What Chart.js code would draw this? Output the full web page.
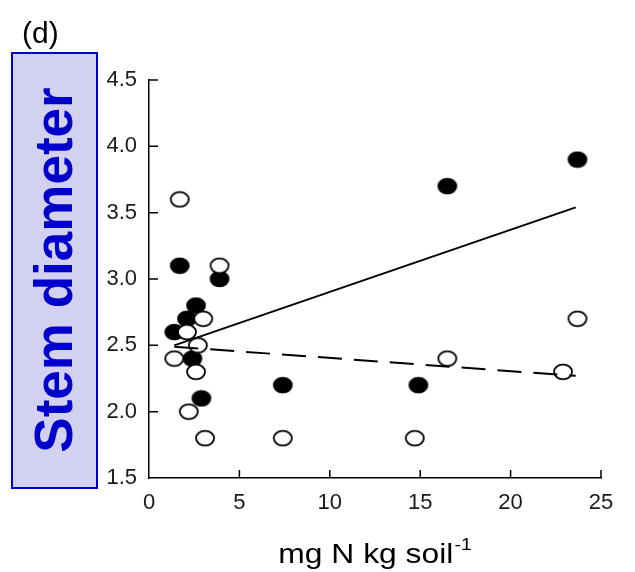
<!DOCTYPE html>
<html>
<head>
<meta charset="utf-8">
<script src="https://cdn.jsdelivr.net/npm/chart.js@4.4.0/dist/chart.umd.min.js"></script>
<style>
  html, body { margin: 0; padding: 0; background: #ffffff; }
  #wrap { width: 635px; height: 572px; position: relative; }
</style>
</head>
<body>
<div id="wrap"><canvas id="c" width="635" height="572"></canvas></div>
<script>
// ---- data ----
const filledX = [1.7, 3.9, 2.6, 2.1, 1.4, 2.4, 2.9, 7.4, 14.9, 16.5, 23.7];
const filledY = [3.1, 3.0, 2.8, 2.7, 2.6, 2.4, 2.1, 2.2, 2.2, 3.7, 3.9];
const openX = [1.7, 3.9, 3.0, 2.1, 2.7, 1.4, 2.6, 2.2, 3.1, 7.4, 14.7, 16.5, 22.9, 23.7];
const openY = [3.6, 3.1, 2.7, 2.6, 2.5, 2.4, 2.3, 2.0, 1.8, 1.8, 1.8, 2.4, 2.3, 2.7];
const solidLineX = [1.4, 23.6];
const solidLineY = [2.50, 3.54];
const dashedLineX = [1.4, 23.6];
const dashedLineY = [2.49, 2.27];
const xTicks = [0, 5, 10, 15, 20, 25];
const yTicks = [1.5, 2.0, 2.5, 3.0, 3.5, 4.0, 4.5];
const panelLabel = '(d)';
const yTitle = 'Stem diameter';
const xTitle = 'mg N kg soil';
const xTitleSup = '-1';

function pts(xs, ys) { return xs.map((x, i) => ({ x: x, y: ys[i] })); }

function ellipseMarker(filled) {
  const c = document.createElement('canvas');
  c.width = 22; c.height = 18;
  const g = c.getContext('2d');
  g.beginPath();
  g.ellipse(11, 9, 9, 7.4, 0, 0, Math.PI * 2);
  g.fillStyle = filled ? '#000000' : '#ffffff';
  g.fill();
  g.lineWidth = 1.8;
  g.strokeStyle = '#000000';
  g.stroke();
  return c;
}

const decorPlugin = {
  id: 'decor',
  beforeDraw(chart) {
    const ctx = chart.ctx;
    ctx.save();
    // y title box
    ctx.fillStyle = '#d2d2f0';
    ctx.fillRect(12, 53, 85, 435);
    ctx.strokeStyle = '#0000cc';
    ctx.lineWidth = 2;
    ctx.strokeRect(12, 53, 85, 435);
    ctx.translate(57, 270);
    ctx.rotate(-Math.PI / 2);
    ctx.fillStyle = '#0000cc';
    ctx.font = 'bold 53px "Liberation Sans", Arial, sans-serif';
    ctx.textAlign = 'center';
    ctx.textBaseline = 'middle';
    ctx.fillText(yTitle, 0, 0);
    ctx.restore();

    // panel label
    ctx.save();
    ctx.fillStyle = '#000000';
    ctx.font = '30px "Liberation Sans", Arial, sans-serif';
    ctx.textAlign = 'left';
    ctx.textBaseline = 'alphabetic';
    ctx.fillText(panelLabel, 22, 43);
    ctx.restore();
  },
  afterDraw(chart) {
    const ctx = chart.ctx;
    const xs = chart.scales.x, ys = chart.scales.y;
    const area = chart.chartArea;
    ctx.save();
    ctx.strokeStyle = '#000000';
    ctx.lineWidth = 1.5;
    ctx.beginPath();
    xs.ticks.forEach(t => {
      if (t.value === xs.min) return;
      const px = xs.getPixelForValue(t.value);
      ctx.moveTo(px, area.bottom);
      ctx.lineTo(px, area.bottom - 8);
    });
    ys.ticks.forEach(t => {
      if (t.value === ys.min) return;
      const py = ys.getPixelForValue(t.value);
      ctx.moveTo(area.left, py);
      ctx.lineTo(area.left + 9, py);
    });
    ctx.stroke();

    // x title with superscript
    ctx.fillStyle = '#000000';
    ctx.textBaseline = 'alphabetic';
    ctx.textAlign = 'left';
    const mainFont = '28px "Liberation Sans", Arial, sans-serif';
    const supFont = '17px "Liberation Sans", Arial, sans-serif';
    ctx.font = mainFont;
    const w1 = ctx.measureText(xTitle).width;
    ctx.font = supFont;
    const w2 = ctx.measureText(xTitleSup).width;
    const sx = 175 / w1;
    const total = (w1 + w2 + 1) * sx;
    const cx = (area.left + area.right) / 2;
    const x0 = cx - total / 2;
    const base = 563;
    ctx.translate(x0, base);
    ctx.scale(sx, 1);
    ctx.font = mainFont;
    ctx.fillText(xTitle, 0, 0);
    ctx.font = supFont;
    ctx.fillText(xTitleSup, w1 + 1, -13);
    ctx.restore();
  }
};

const tickFont = { family: '"Liberation Sans", Arial, sans-serif', size: 22 };

new Chart(document.getElementById('c'), {
  type: 'scatter',
  data: {
    datasets: [
      {
        label: 'solid fit',
        data: pts(solidLineX, solidLineY),
        showLine: true,
        borderColor: '#000000',
        borderWidth: 2,
        pointRadius: 0,
        order: -1
      },
      {
        label: 'dashed fit',
        data: pts(dashedLineX, dashedLineY),
        showLine: true,
        borderColor: '#000000',
        borderWidth: 2,
        borderDash: [24, 12],
        pointRadius: 0,
        order: -1
      },
      {
        label: 'open',
        data: pts(openX, openY),
        pointStyle: ellipseMarker(false),
        pointRadius: 9,
        order: 0
      },
      {
        label: 'filled',
        data: pts(filledX, filledY),
        pointStyle: ellipseMarker(true),
        pointRadius: 9,
        order: 1
      }
    ]
  },
  options: {
    responsive: false,
    animation: false,
    devicePixelRatio: 1,
    layout: { padding: { left: 0, top: 80, right: 34, bottom: 0 } },
    plugins: { legend: { display: false }, tooltip: { enabled: false }, title: { display: false } },
    scales: {
      x: {
        type: 'linear',
        min: xTicks[0],
        max: xTicks[xTicks.length - 1],
        afterBuildTicks: s => { s.ticks = xTicks.map(v => ({ value: v })); },
        afterFit: s => { s.height = 94; },
        grid: { display: false, drawTicks: false },
        border: { display: true, color: '#000000', width: 1.5 },
        ticks: { font: tickFont, color: '#1a1a1a', padding: 12, maxRotation: 0, autoSkip: false }
      },
      y: {
        type: 'linear',
        min: yTicks[0],
        max: yTicks[yTicks.length - 1],
        afterBuildTicks: s => { s.ticks = yTicks.map(v => ({ value: v })); },
        afterFit: s => { s.width = 149; },
        grid: { display: false, drawTicks: false },
        border: { display: true, color: '#000000', width: 1.5 },
        ticks: { font: tickFont, color: '#1a1a1a', padding: 12, autoSkip: false,
                 callback: v => Number(v).toFixed(1) }
      }
    }
  },
  plugins: [decorPlugin]
});
</script>
</body>
</html>
